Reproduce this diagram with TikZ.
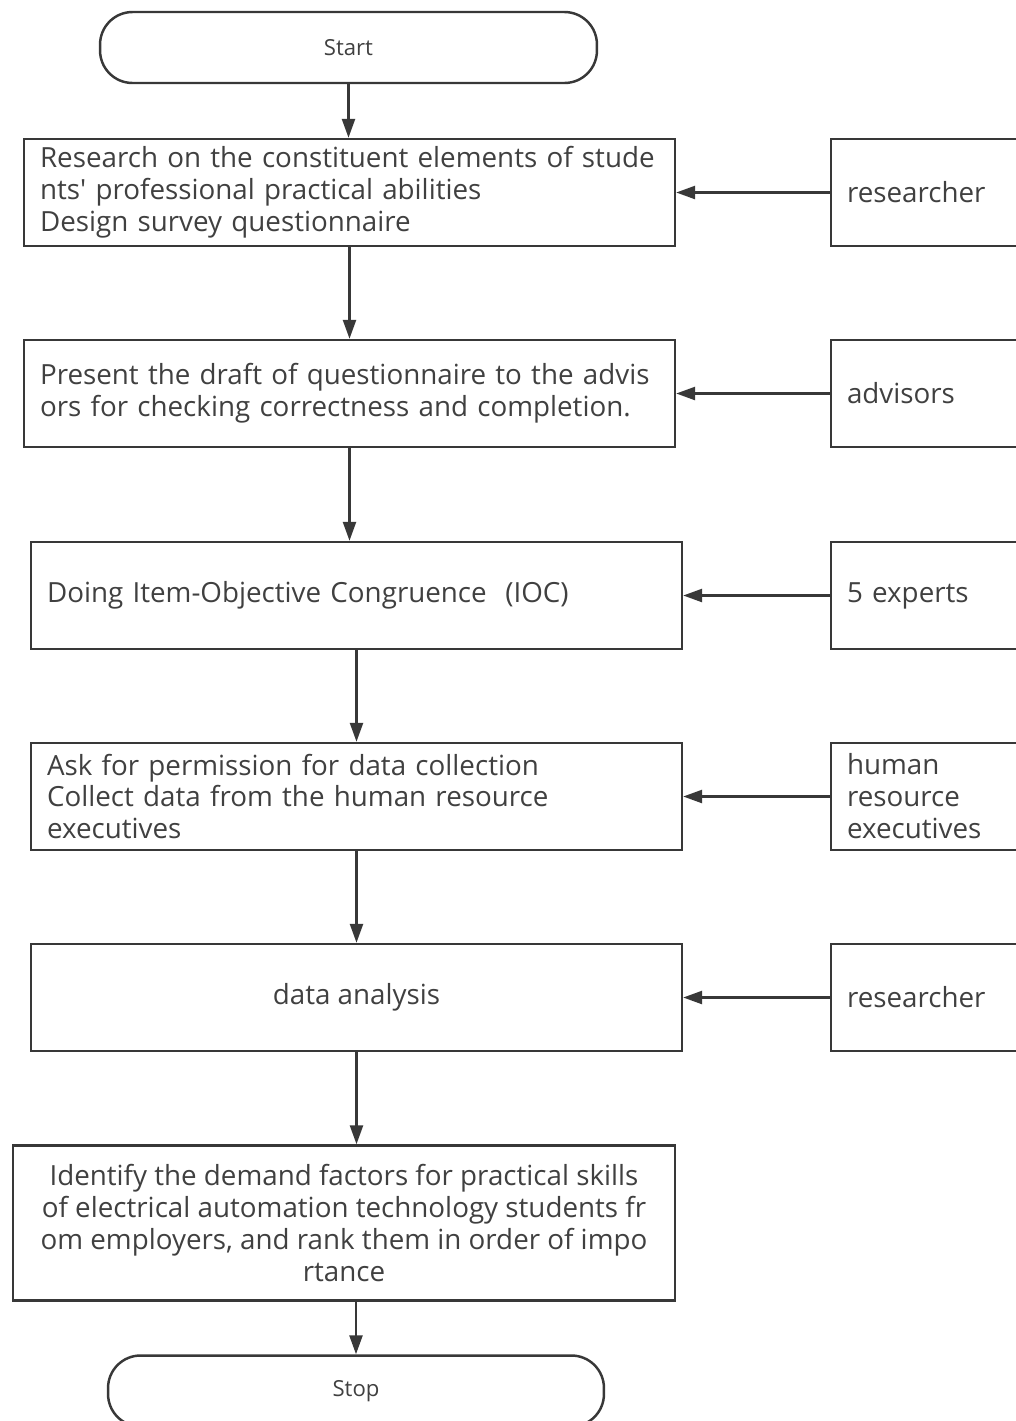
\documentclass[tikz,border=0pt]{standalone}
\usepackage{fontspec}
\setmainfont{Open Sans}
\usetikzlibrary{arrows.meta}
\definecolor{linegray}{HTML}{383838}
\definecolor{textgray}{HTML}{404040}
\tikzset{
  box/.style={draw=linegray, line width=1.4pt, minimum width=13.02cm, minimum height=2.14cm, inner sep=0pt, text=textgray, font=\fontsize{15.8}{18.2}\selectfont},
  leftbox/.style={box, text width=12.38cm, align=left},
  role/.style={box, minimum width=4cm, text width=3.36cm, align=left},
  terminal/.style={draw=linegray, line width=1.4pt, rounded corners=0.65cm, minimum width=9.94cm, minimum height=1.42cm, text=textgray, font=\fontsize{12.6}{14}\selectfont},
  flow/.style={draw=linegray, line width=1.4pt, -{Triangle[length=0.38cm, width=0.26cm]}}
}
\begin{document}
\begin{tikzpicture}[x=0.02cm, y=-0.02cm]
\useasboundingbox (0,0) rectangle (1016,1421);
\clip (0,0) rectangle (1016,1421);
% steps of the study
\node[terminal] (start) at (348.5,47.5) {Start};
\node[leftbox] (survey) at (349.5,192.5) {Research on the constituent elements of stude\\nts\textquotesingle{} professional practical abilities\\Design survey questionnaire};
\node[leftbox] (draft) at (349.5,393.5) {Present the draft of questionnaire to the advis\\ors for checking correctness and completion.};
\node[leftbox] (ioc) at (356.5,595.5) {Doing Item-Objective Congruence~~(IOC)};
\node[leftbox] (collect) at (356.5,796.5) {Ask for permission for data collection\\Collect data from the human resource\\executives};
\node[box] (analysis) at (356.5,997.5) {data analysis};
\node[box, minimum width=13.24cm, minimum height=3.1cm, align=center] (rank) at (344,1223) {Identify the demand factors for practical skills\\of electrical automation technology students fr\\om employers, and rank them in order of impo\\rtance};
\node[terminal, minimum width=9.92cm] (stop) at (356,1391) {Stop};
% who takes part
\node[role] (res1) at (931,192.5) {researcher};
\node[role] (adv) at (931,393.5) {advisors};
\node[role] (exp) at (931,595.5) {5 experts};
\node[role] (hr) at (931,796.5) {human\\resource\\executives};
\node[role] (res2) at (931,997.5) {researcher};
% main flow
\draw[flow] (start.south) -- (start.south |- survey.north);
\draw[flow] (survey) -- (draft);
\draw[flow] (draft.south) -- (draft.south |- ioc.north);
\draw[flow] (ioc) -- (collect);
\draw[flow] (collect) -- (analysis);
\draw[flow] (analysis.south) -- (analysis.south |- rank.north);
\draw[flow] (stop.north |- rank.south) -- (stop.north);
% inputs from the right
\draw[flow] (res1) -- (survey);
\draw[flow] (adv) -- (draft);
\draw[flow] (exp) -- (ioc);
\draw[flow] (hr) -- (collect);
\draw[flow] (res2) -- (analysis);
\end{tikzpicture}
\end{document}
